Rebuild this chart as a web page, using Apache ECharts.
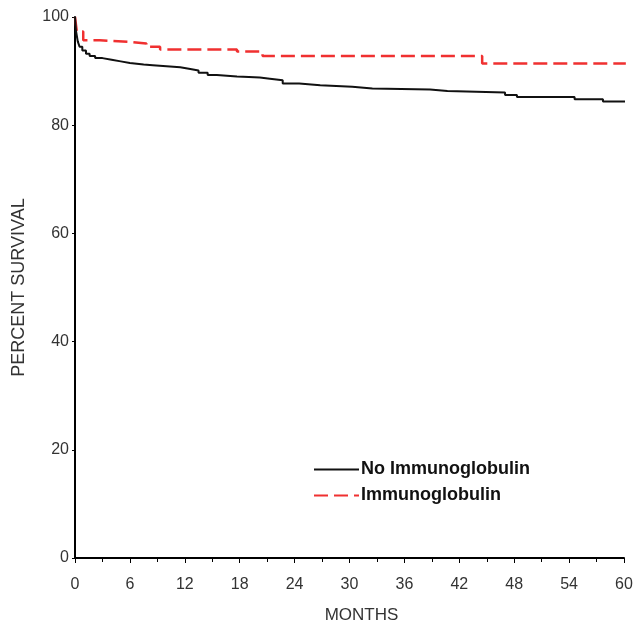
<!DOCTYPE html>
<html>
<head>
<meta charset="utf-8">
<script src="https://cdn.jsdelivr.net/npm/echarts@6/dist/echarts.min.js"></script>
<style>
html, body { margin: 0; padding: 0; background: #fff; }
#main { width: 641px; height: 630px; }
</style>
</head>
<body>
<div id="main"></div>
<script>
// survival curves: month -> percent surviving
var noIgMonths = [0, 0.1, 0.3, 0.5, 0.8, 1.2, 1.6, 2.2, 3, 4, 5, 6, 7.5, 8.5, 10, 11.5, 12.6, 13.5, 14.5, 15.5, 17.7, 19, 20.2, 21.3, 22.7, 24.5, 26.8, 30.3, 32.5, 38.8, 40.7, 47, 48.3, 54.6, 57.7, 60.2];
var noIgValues = [100, 97.5, 95.5, 94.5, 93.8, 93.2, 92.8, 92.4, 92.1, 91.8, 91.5, 91.2, 91.1, 90.9, 90.7, 90.4, 90.1, 89.7, 89.3, 89.0, 88.9, 88.8, 88.6, 88.3, 87.7, 87.4, 87.1, 86.8, 86.6, 86.3, 86.05, 85.6, 85.2, 84.8, 84.4, 84.4];
var igMonths = [0, 0.2, 0.9, 2.7, 6, 7.8, 9.3, 17.7, 20.5, 44.5, 60.2];
var igValues = [100, 97.3, 95.7, 95.4, 95.1, 94.5, 94.0, 93.6, 92.8, 91.4, 91.4];
var xTicks = [0, 6, 12, 18, 24, 30, 36, 42, 48, 54, 60];

function pairs(xs, ys) {
    var out = [];
    for (var i = 0; i < xs.length; i++) {
        out.push([xs[i], ys[i]]);
    }
    return out;
}

var myChart = echarts.init(document.getElementById('main'));
var fontName = 'Liberation Sans, Arial, sans-serif';

option = {
    backgroundColor: '#fff',
    animation: false,
    grid: {
        left: 75,
        right: 17,
        top: 17,
        bottom: 72
    },
    legend: {
        orient: 'vertical',
        left: 313,
        top: 460,
        padding: 0,
        itemWidth: 45,
        itemHeight: 14,
        itemGap: 7,
        itemStyle: { opacity: 0 },
        textStyle: {
            color: '#111',
            fontSize: 18,
            lineHeight: 19,
            fontWeight: 'bold',
            fontFamily: fontName,
            padding: [0, 0, 0, -3]
        },
        data: ['No Immunoglobulin', 'Immunoglobulin']
    },
    xAxis: {
        type: 'value',
        min: 0,
        max: 60,
        interval: 6,
        name: 'MONTHS',
        nameLocation: 'middle',
        nameGap: 49,
        nameTextStyle: { color: '#333', fontSize: 17, fontFamily: fontName, padding: [0, 0, 0, 24] },
        axisLine: { show: true, lineStyle: { color: '#000', width: 2 } },
        axisTick: { show: true, length: 5, lineStyle: { color: '#000' } },
        minorTick: { show: true, splitNumber: 2, length: 4, lineStyle: { color: '#000' } },
        axisLabel: {
            margin: 19,
            color: '#333',
            fontSize: 16,
            fontFamily: fontName,
            formatter: function (v) { return xTicks.indexOf(v) >= 0 ? v : ''; }
        },
        splitLine: { show: false }
    },
    yAxis: {
        type: 'value',
        min: 0,
        max: 100,
        interval: 20,
        name: 'PERCENT SURVIVAL',
        nameLocation: 'middle',
        nameGap: 47,
        nameTextStyle: { color: '#333', fontSize: 18, fontFamily: fontName },
        axisLine: { show: true, lineStyle: { color: '#000', width: 2 } },
        axisTick: { show: true, length: 3, lineStyle: { color: '#000' } },
        axisLabel: { margin: 6, color: '#333', fontSize: 16, fontFamily: fontName },
        splitLine: { show: false }
    },
    series: [
        {
            type: 'line',
            name: 'No Immunoglobulin',
            step: 'end',
            symbol: 'none',
            data: pairs(noIgMonths, noIgValues),
            lineStyle: { color: '#111', width: 2 },
            itemStyle: { color: '#111' },
            z: 3
        },
        {
            type: 'line',
            name: 'Immunoglobulin',
            step: 'end',
            symbol: 'none',
            data: pairs(igMonths, igValues),
            lineStyle: { color: '#f03030', width: 2.5, type: [14, 6] },
            itemStyle: { color: '#f03030' },
            z: 2
        }
    ]
};
myChart.setOption(option);
</script>
</body>
</html>
